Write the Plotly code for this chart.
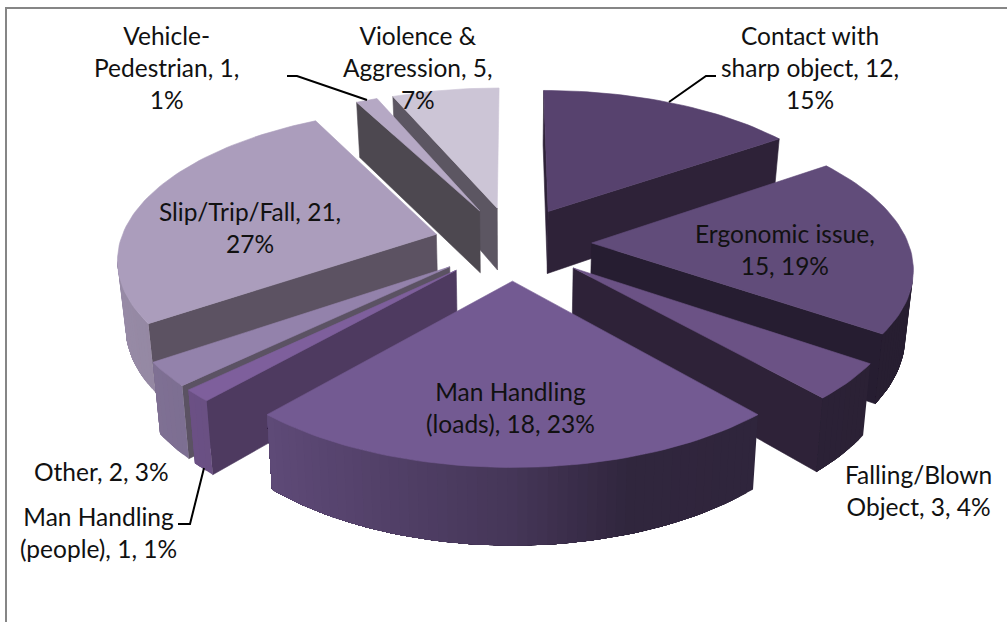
import math
import plotly.graph_objects as go

# ---- data ----
categories = ["Contact with sharp object", "Ergonomic issue", "Falling/Blown Object",
              "Man Handling (loads)", "Man Handling (people)", "Other",
              "Slip/Trip/Fall", "Vehicle-Pedestrian", "Violence & Aggression"]
values = [12, 15, 3, 18, 1, 2, 21, 1, 5]
percents = [15, 19, 4, 23, 1, 3, 27, 1, 7]
label_texts = ["Contact with<br>sharp object, {v},<br>{p}%",
               "Ergonomic issue,<br>{v}, {p}%",
               "Falling/Blown<br>Object, {v}, {p}%",
               "Man Handling<br>(loads), {v}, {p}%",
               "Man Handling<br>(people), {v}, {p}%",
               "Other, {v}, {p}%",
               "Slip/Trip/Fall, {v},<br>{p}%",
               "Vehicle-<br>Pedestrian, {v},<br>{p}%",
               "Violence &<br>Aggression, {v},<br>{p}%"]

# ---- styles and layout ----
top_colors = ["#57426E", "#614C7A", "#6B5285", "#735A92", "#7E5F9C",
              "#9382AB", "#AB9DBC", "#B5A8C4", "#CCC5D6"]
side_colors = ["#2E2238", "#261D31", "#2E2238", "#2E2238", "#4E3A60",
               "#5B5263", "#5C5262", "#4D4850", "#5C5662"]
label_x = [810, 785, 918, 510, 98, 101, 250, 166, 418]
label_y = [67, 249, 490, 407, 532, 471, 227, 67, 67]
FONT = "Lato"
FONT_SIZE = 24.5
W, H = 1007, 622
CX, CY, A, B, P, EXPL, DROP = 512.5, 243, 316.5, 147, 0.145, 0.25, 64
BOTTOM_X = 0.98
leaders = [[(287, 76), (297, 76), (367, 100)],
           [(716, 76), (706, 76), (669, 102)],
           [(178, 524), (190, 524), (204, 468)]]
draw_order = [8, 7, 0, 6, 1, 5, 4, 2, 3]


def project(u, v, low=False):
    d = 1 + P * v
    x = CX + A * u / d
    y = CY - B * v / d
    if low:
        y += DROP / d
        x = CX + (x - CX) * BOTTOM_X
    return x, y


def rgb(hexcol):
    return tuple(int(hexcol[i:i + 2], 16) for i in (1, 3, 5))


def shaded(hexcol, f):
    return "rgb(%d,%d,%d)" % tuple(round(c * f) for c in rgb(hexcol))


def arc_shade(u):
    # outer wall lighting: bright on the left, dark on the right
    pts = [(-1.0, 0.86), (-0.66, 0.82), (0.0, 0.6), (0.3, 0.42), (1.0, 0.4)]
    for (u0, f0), (u1, f1) in zip(pts, pts[1:]):
        if u <= u1:
            return f0 + (f1 - f0) * (u - u0) / (u1 - u0)
    return pts[-1][1]


fig = go.Figure()


def poly(points, color, width=0.6):
    xs = [p[0] for p in points] + [points[0][0]]
    ys = [p[1] for p in points] + [points[0][1]]
    fig.add_trace(go.Scatter(x=xs, y=ys, mode="lines", fill="toself", fillcolor=color,
                             line=dict(color=color, width=width), hoverinfo="skip",
                             showlegend=False))


total = sum(values)
starts = [sum(values[:i]) / total * 2 * math.pi for i in range(len(values))]

for i in draw_order:
    a0 = starts[i]
    a1 = a0 + values[i] / total * 2 * math.pi
    mid = (a0 + a1) / 2
    ou, ov = EXPL * math.sin(mid), EXPL * math.cos(mid)
    n = max(3, int((a1 - a0) / math.radians(1.5)))
    rim = [(ou + math.sin(a0 + (a1 - a0) * k / n), ov + math.cos(a0 + (a1 - a0) * k / n))
           for k in range(n + 1)]
    apex = (ou, ov)

    def wall(p, q, color):
        pt, qt = project(*p), project(*q)
        if qt[0] - pt[0] < -3:
            poly([pt, qt, project(*q, low=True), project(*p, low=True)], color)

    wall(apex, rim[0], side_colors[i])
    wall(rim[-1], apex, side_colors[i])

    # outer wall: nested strips so neighbouring shades leave no seam
    vis = [k for k in range(n) if project(*rim[k + 1])[0] < project(*rim[k])[0]]
    if vis:
        last = vis[-1] + 1
        for k in vis:
            strip = rim[k:last + 1]
            u_mid = (rim[k][0] + rim[k + 1][0]) / 2
            outline = [project(*p) for p in strip] + [project(*p, low=True) for p in reversed(strip)]
            poly(outline, shaded(top_colors[i], arc_shade(u_mid)), width=0)

    poly([project(*apex)] + [project(*p) for p in rim], top_colors[i])

annotations = [dict(x=x, y=y, xref="x", yref="y", showarrow=False, align="center",
                    text=t.format(v=v, p=pc), font=dict(family=FONT, size=FONT_SIZE, color="#111111"))
               for x, y, t, v, pc in zip(label_x, label_y, label_texts, values, percents)]

shapes = [dict(type="path", xref="x", yref="y",
               path="M 6 622 L 6 8 L 1007 8", line=dict(color="#868686", width=2))]
for pts in leaders:
    path = "M " + " L ".join(f"{x} {y}" for x, y in pts)
    shapes.append(dict(type="path", xref="x", yref="y", path=path,
                       line=dict(color="#000000", width=2)))

fig.update_layout(width=W, height=H, margin=dict(l=0, r=0, t=0, b=0),
                  paper_bgcolor="white", plot_bgcolor="white", showlegend=False,
                  xaxis=dict(range=[0, W], visible=False, fixedrange=True),
                  yaxis=dict(range=[H, 0], visible=False, fixedrange=True),
                  annotations=annotations, shapes=shapes)
fig.write_html("out.html", config=dict(displayModeBar=False),
               post_script="document.body.style.margin='0';document.body.style.overflow='hidden';")
